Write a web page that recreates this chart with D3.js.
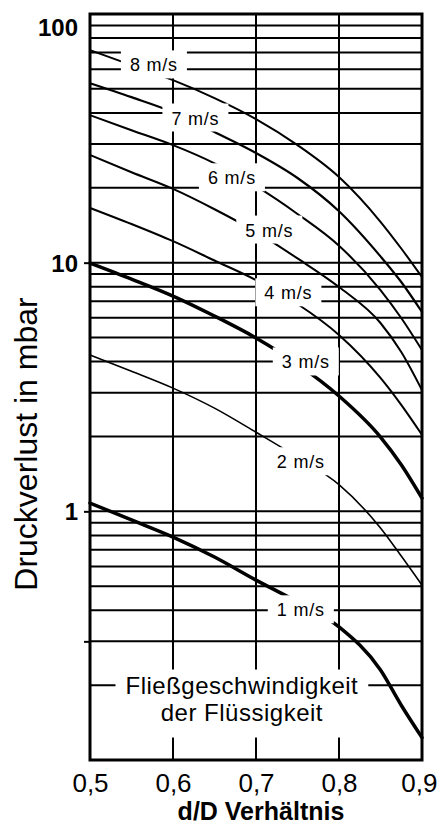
<!DOCTYPE html>
<html>
<head>
<meta charset="utf-8">
<script src="https://cdn.jsdelivr.net/npm/d3@7"></script>
<style>
    body { margin: 0; background: #fff; }
    svg { display: block; font-family: "Liberation Sans", Arial, sans-serif; }
</style>
</head>
<body>
<svg id="chart"></svg>
<script>
const ratios = [0.5, 0.55, 0.6, 0.65, 0.7, 0.75, 0.8, 0.85, 0.875, 0.9];

const speeds = ['1 m/s', '2 m/s', '3 m/s', '4 m/s', '5 m/s', '6 m/s', '7 m/s', '8 m/s'];

// pressure loss in mbar, one array per flow speed
const loss1 = [1.08, 0.923, 0.788, 0.655, 0.529, 0.432, 0.343, 0.230, 0.166, 0.123];
const loss2 = [4.25, 3.66, 3.13, 2.60, 2.08, 1.65, 1.28, 0.857, 0.661, 0.505];
const loss3 = [9.96, 8.59, 7.34, 6.10, 4.98, 3.91, 2.91, 1.99, 1.54, 1.13];
const loss4 = [16.6, 14.3, 12.2, 10.2, 8.51, 6.82, 5.12, 3.44, 2.68, 2.03];
const loss5 = [27.1, 23.1, 19.8, 16.4, 13.3, 10.4, 7.98, 5.72, 4.37, 3.07];
const loss6 = [39.2, 34.1, 29.7, 25.1, 20.3, 15.7, 11.7, 7.76, 5.99, 4.45];
const loss7 = [52.7, 46.3, 40.3, 33.5, 27.6, 21.9, 16.1, 10.6, 8.36, 6.33];
const loss8 = [71.6, 62.3, 54.2, 45.9, 37.8, 29.7, 22.1, 14.6, 11.4, 8.75];

// where each speed label sits (d/D, mbar)
const labelRatio = [0.754, 0.754, 0.760, 0.739, 0.716, 0.671, 0.627, 0.577];
const labelLoss = [0.401, 1.58, 3.98, 7.55, 13.5, 21.9, 38.1, 62.3];

const lineWidths = [3.5, 1.6, 3.5, 2, 2, 2, 2.2, 2];

const xTicks = [0.5, 0.6, 0.7, 0.8, 0.9];
const xTickLabels = ['0,5', '0,6', '0,7', '0,8', '0,9'];
const yTicks = [100, 10, 1, 0.3];
const yTickLabels = ['100', '10', '1', ''];

class LossChart {

    constructor(config, series) {
        this.config = {
            parent: config.parent,
            width: config.width || 438,
            height: config.height || 827,
            margin: config.margin || { top: 14, right: 16, bottom: 67, left: 90 }
        };
        this.series = series;
        this.init();
    }

    init() {
        let self = this;
        let c = self.config;

        self.width = c.width - c.margin.left - c.margin.right;
        self.height = c.height - c.margin.top - c.margin.bottom;

        self.svg = d3.select(c.parent)
            .attr('width', c.width)
            .attr('height', c.height);

        self.chart = self.svg.append('g')
            .attr('transform', `translate(${c.margin.left},${c.margin.top})`);

        self.x = d3.scaleLinear()
            .domain([0.5, 0.9])
            .range([0, self.width]);

        self.y = d3.scaleLog()
            .domain([0.1, 100])
            .range([self.height, 0]);

        self.line = d3.line()
            .x(d => self.x(d.ratio))
            .y(d => self.y(d.loss))
            .curve(d3.curveMonotoneX);
    }

    render() {
        let self = this;

        // grid
        let hGrid = self.y.ticks().filter(v => v > 0.15 && v < 99);
        self.chart.append('g')
            .selectAll('line')
            .data(hGrid).enter()
            .append('line')
            .attr('x1', 0).attr('x2', self.width)
            .attr('y1', d => self.y(d)).attr('y2', d => self.y(d))
            .attr('stroke', '#000')
            .attr('stroke-width', 2);

        self.chart.append('g')
            .selectAll('line')
            .data(xTicks.slice(1, -1)).enter()
            .append('line')
            .attr('x1', d => self.x(d)).attr('x2', d => self.x(d))
            .attr('y1', 0).attr('y2', self.height)
            .attr('stroke', '#000')
            .attr('stroke-width', 2);

        // curves
        self.chart.append('g')
            .selectAll('path')
            .data(self.series).enter()
            .append('path')
            .attr('d', d => self.line(d.points))
            .attr('fill', 'none')
            .attr('stroke', '#000')
            .attr('stroke-width', (d, i) => lineWidths[i])
            .attr('stroke-linecap', 'round');

        // speed labels on white boxes
        let labels = self.chart.append('g')
            .selectAll('g')
            .data(self.series).enter()
            .append('g');

        labels.append('text')
            .attr('x', d => self.x(d.labelRatio))
            .attr('y', d => self.y(d.labelLoss))
            .attr('dy', '0.35em')
            .attr('text-anchor', 'middle')
            .attr('font-size', 18)
            .attr('letter-spacing', 0.8)
            .text(d => d.label)
            .each(function () {
                let b = this.getBBox();
                d3.select(this.parentNode).insert('rect', 'text')
                    .attr('x', b.x - 9)
                    .attr('y', b.y - 5)
                    .attr('width', b.width + 18)
                    .attr('height', b.height + 8)
                    .attr('fill', '#fff');
            });

        // caption box
        let caption = self.chart.append('g');
        let cx = self.x(0.683);
        let cy = self.y(0.2);
        let capText = caption.append('text')
            .attr('text-anchor', 'middle')
            .attr('font-size', 24)
            .attr('letter-spacing', 0.5);
        capText.append('tspan')
            .attr('x', cx).attr('y', cy).attr('dy', '0.35em')
            .text('Fließgeschwindigkeit');
        capText.append('tspan')
            .attr('x', cx).attr('y', cy + 27).attr('dy', '0.35em')
            .text('der Flüssigkeit');
        let cb = capText.node().getBBox();
        caption.insert('rect', 'text')
            .attr('x', cb.x - 10)
            .attr('y', cb.y - 2)
            .attr('width', cb.width + 20)
            .attr('height', cb.height + 14)
            .attr('fill', '#fff');

        // axes
        let yAxis = self.chart.append('g')
            .call(d3.axisLeft(self.y)
                .tickValues(yTicks)
                .tickSize(6)
                .tickPadding(6)
                .tickFormat((d, i) => yTickLabels[i]));
        yAxis.select('.domain').remove();
        yAxis.selectAll('line').attr('stroke', '#000').attr('stroke-width', 2);
        yAxis.selectAll('text')
            .attr('font-family', '"Liberation Sans", Arial, sans-serif')
            .attr('font-size', 24)
            .attr('font-weight', 'bold')
            .attr('fill', '#000')
            .attr('dy', d => d === 100 ? '0.9em' : '0.35em');
        yAxis.selectAll('.tick').filter(d => d === 100).select('line').remove();

        let last = xTicks.length - 1;
        let xAxis = self.chart.append('g')
            .attr('transform', `translate(0,${self.height})`)
            .call(d3.axisBottom(self.x)
                .tickValues(xTicks)
                .tickSize(0)
                .tickPadding(14)
                .tickFormat((d, i) => xTickLabels[i]));
        xAxis.select('.domain').remove();
        xAxis.selectAll('text')
            .attr('font-family', '"Liberation Sans", Arial, sans-serif')
            .attr('font-size', 26)
            .attr('fill', '#000')
            .attr('text-anchor', (d, i) => i === last ? 'end' : 'middle')
            .attr('dx', (d, i) => i === last ? 15 : 0);

        // frame
        self.chart.append('rect')
            .attr('width', self.width)
            .attr('height', self.height)
            .attr('fill', 'none')
            .attr('stroke', '#000')
            .attr('stroke-width', 3);

        // axis titles
        self.svg.append('text')
            .attr('transform', `translate(37,444) rotate(-90)`)
            .attr('text-anchor', 'middle')
            .attr('font-size', 32)
            .text('Druckverlust in mbar');

        self.svg.append('text')
            .attr('x', self.config.margin.left + self.x(0.706))
            .attr('y', 820)
            .attr('text-anchor', 'middle')
            .attr('font-size', 25)
            .attr('font-weight', 'bold')
            .text('d/D Verhältnis');
    }
}

let lossTable = [loss1, loss2, loss3, loss4, loss5, loss6, loss7, loss8];
let series = speeds.map((s, i) => ({
    label: s,
    points: ratios.map((r, j) => ({ ratio: r, loss: lossTable[i][j] })),
    labelRatio: labelRatio[i],
    labelLoss: labelLoss[i]
}));

let chart = new LossChart({ parent: '#chart', width: 438, height: 827 }, series);
chart.render();
</script>
</body>
</html>
